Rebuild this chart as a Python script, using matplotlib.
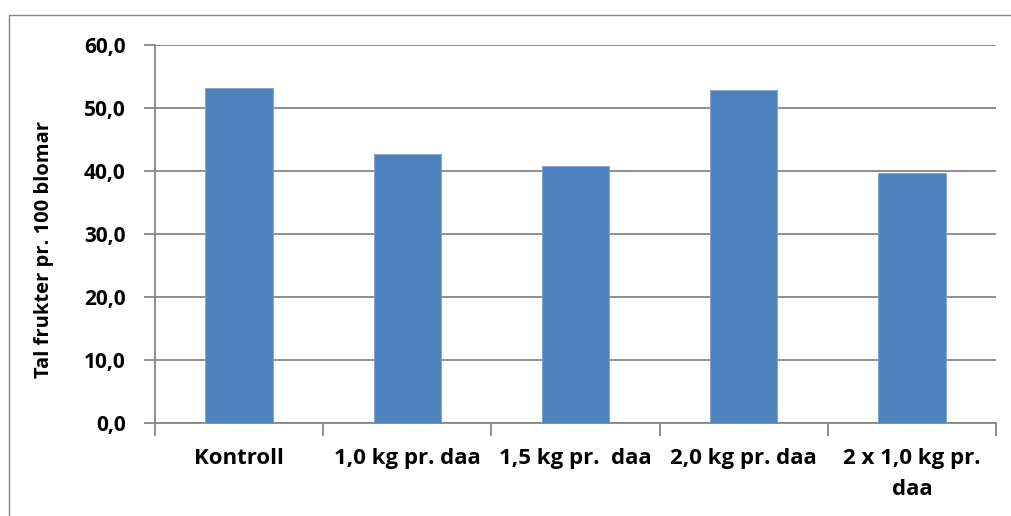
import numpy as np
import matplotlib.pyplot as plt
from matplotlib.patches import Rectangle

categories = ['Kontroll', '1,0 kg pr. daa', '1,5 kg pr.  daa', '2,0 kg pr. daa', '2 x 1,0 kg pr.\ndaa']
values = [53.1, 42.7, 40.8, 52.9, 39.7]
yticks = [0, 10, 20, 30, 40, 50, 60]
ylabel = 'Tal frukter pr. 100 blomar'

W, H = 1011, 516
grey = '#868686'
blue = '#4F81BD'

plt.rcParams['font.family'] = ['Open Sans', 'DejaVu Sans']
plt.rcParams['font.weight'] = 'bold'

fig = plt.figure(figsize=(W / 100, H / 100), dpi=100)

# outer chart frame (open to right / bottom as in the source crop)
fig.patches.append(Rectangle((9 / W, -0.1), 1.2, (H - 15) / H + 0.1,
                             transform=fig.transFigure, fill=False,
                             edgecolor=grey, lw=1.0))

ax = fig.add_axes([155 / W, (H - 423) / H, (996 - 155) / W, (423 - 45) / H])

x = np.arange(len(categories))
ax.bar(x, values, width=0.4, color=blue, edgecolor='#7FA3D3', linewidth=0.6, zorder=3)

ax.set_xlim(-0.5, len(categories) - 0.5)
ax.set_ylim(0, 60)
ax.set_yticks(yticks)
ax.set_yticklabels([('%.1f' % v).replace('.', ',') for v in yticks])
ax.yaxis.grid(True, color=grey, lw=1.3, zorder=0)
ax.set_axisbelow(True)

# category boundary ticks
ax.set_xticks(np.arange(len(categories) + 1) - 0.5)
ax.set_xticklabels([])
ax.set_xticks(x, minor=True)
ax.set_xticklabels(categories, minor=True, fontsize=16, fontweight='bold',
                   linespacing=1.6, va='top')
ax.tick_params(axis='x', which='minor', length=0, pad=18)
ax.tick_params(axis='x', which='major', length=9, width=1.3, color=grey, direction='out')
ax.tick_params(axis='y', length=8, width=1.3, color=grey, direction='out', pad=13,
               labelsize=15)
for lab in ax.get_yticklabels():
    lab.set_fontweight('bold')

for s in ['top', 'right']:
    ax.spines[s].set_visible(False)
for s in ['left', 'bottom']:
    ax.spines[s].set_color(grey)
    ax.spines[s].set_linewidth(1.3)

fig.text(44 / W, 1 - 250 / H, ylabel, rotation=90, ha='center', va='center',
         fontsize=14.5, fontweight='bold')

fig.savefig('out.png', dpi=100)
